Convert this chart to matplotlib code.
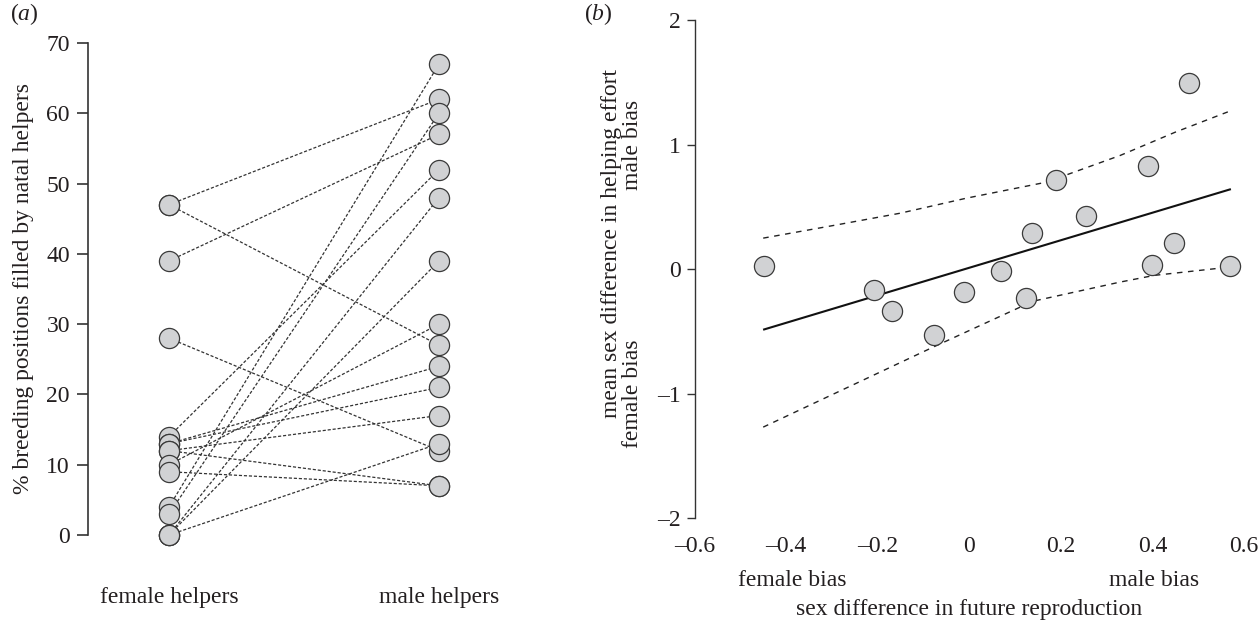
import matplotlib
matplotlib.use("Agg")
import matplotlib.pyplot as plt
from matplotlib.transforms import blended_transform_factory

plt.rcParams['font.family'] = ['Liberation Serif', 'DejaVu Serif']
plt.rcParams['mathtext.fontset'] = 'custom'
plt.rcParams['mathtext.rm'] = 'Liberation Serif'
plt.rcParams['mathtext.it'] = 'Liberation Serif:italic'
plt.rcParams['text.color'] = '#231f20'
plt.rcParams['axes.edgecolor'] = '#333333'
plt.rcParams['xtick.color'] = '#333333'
plt.rcParams['ytick.color'] = '#333333'
plt.rcParams['xtick.labelcolor'] = '#231f20'
plt.rcParams['ytick.labelcolor'] = '#231f20'

# panel (a): % breeding positions filled by natal helpers, paired by species
female_helpers = [47, 47, 39, 28, 14, 13, 13, 12, 12, 10, 9, 4, 3, 0, 0, 0]
male_helpers = [62, 27, 57, 12, 52, 24, 21, 17, 7, 30, 7, 67, 60, 48, 39, 13]
groups = ["female helpers", "male helpers"]

# panel (b): sex difference in future reproduction vs helping effort
future_repro = [-0.448, -0.208, -0.168, -0.077, -0.012, 0.069, 0.124, 0.137,
                0.189, 0.255, 0.390, 0.399, 0.448, 0.480, 0.569]
helping_diff = [0.024, -0.171, -0.337, -0.527, -0.187, -0.016, -0.233, 0.292,
                0.712, 0.425, 0.827, 0.030, 0.209, 1.496, 0.024]
fit_x = [-0.448, 0.569]
fit_y = [-0.484, 0.640]
upper_x = [-0.45, -0.296, -0.151, -0.006, 0.168, 0.329, 0.45, 0.567]
upper_y = [0.249, 0.351, 0.449, 0.570, 0.698, 0.912, 1.10, 1.266]
lower_x = [-0.45, -0.25, -0.079, 0.111, 0.147, 0.329, 0.404, 0.567]
lower_y = [-1.268, -0.922, -0.626, -0.305, -0.251, -0.104, -0.05, 0.016]

face = '#d1d2d4'
edge = '#3a3a3a'
fs = 17

fig = plt.figure(figsize=(12.59, 6.25), dpi=100)

# ---- panel a
ax = fig.add_axes([88/1259, 90/625, 432/1259, 492/625])
for f, m in zip(female_helpers, male_helpers):
    ax.plot([0, 1], [f, m], ls=(0, (2.5, 1.5)), lw=0.9, color='#333333', zorder=1)
ax.plot([0]*len(female_helpers), female_helpers, 'o', ms=14.5, mfc=face, mec=edge,
        mew=0.9, ls='none', zorder=3, clip_on=False)
ax.plot([1]*len(male_helpers), male_helpers, 'o', ms=14.5, mfc=face, mec=edge,
        mew=0.9, ls='none', zorder=3, clip_on=False)
ax.set_xlim(-0.3, 1.3)
ax.set_ylim(0, 70)
ax.set_yticks(range(0, 71, 10))
for s in ['top', 'right', 'bottom']:
    ax.spines[s].set_visible(False)
ax.spines['left'].set_linewidth(1.2)
ax.tick_params(axis='y', direction='out', length=8, width=1.2, pad=5, labelsize=fs)
ax.set_xticks([])
tr = blended_transform_factory(ax.transData, fig.transFigure)
for i, g in enumerate(groups):
    ax.text(i, 1 - 598/625, g, transform=tr, ha='center', va='center', fontsize=fs)
fig.text(24/1259, 1 - 289/625, "% breeding positions filled by natal helpers",
         rotation=90, ha='center', va='center', fontsize=fs)
fig.text(10/1259, 1 - 14/625, r"($\mathit{a}$)", ha='left', va='center', fontsize=fs)

# ---- panel b
bx = fig.add_axes([694.5/1259, (625-518.3)/625, 549.6/1259, 498.3/625])
bx.plot(upper_x, upper_y, ls=(0, (4, 4)), lw=1.0, color='#222222', zorder=1)
bx.plot(lower_x, lower_y, ls=(0, (4, 4)), lw=1.0, color='#222222', zorder=1)
bx.plot(fit_x, fit_y, '-', lw=1.5, color='#111111', zorder=2)
bx.plot(future_repro, helping_diff, 'o', ms=14.5, mfc=face, mec=edge, mew=0.9,
        ls='none', zorder=3, clip_on=False)
bx.set_xlim(-0.6, 0.6)
bx.set_ylim(-2, 2)
bx.set_xticks([-0.6, -0.4, -0.2, 0, 0.2, 0.4, 0.6])
bx.set_xticklabels(['\u2013' + '0.6', '\u2013' + '0.4', '\u2013' + '0.2', '0', '0.2', '0.4', '0.6'])
bx.set_yticks([-2, -1, 0, 1, 2])
bx.set_yticklabels(['\u20132', '\u20131', '0', '1', '2'])
for s in ['top', 'right', 'bottom']:
    bx.spines[s].set_visible(False)
bx.spines['left'].set_linewidth(1.0)
bx.tick_params(axis='y', direction='out', length=6, width=1.0, pad=4, labelsize=fs)
bx.tick_params(axis='x', length=0, pad=13, labelsize=fs)
trb = blended_transform_factory(bx.transData, fig.transFigure)
bx.text(-0.387, 1 - 580/625, "female bias", transform=trb, ha='center', va='center', fontsize=fs)
bx.text(0.403, 1 - 580/625, "male bias", transform=trb, ha='center', va='center', fontsize=fs)
bx.text(0.0, 1 - 610/625, "sex difference in future reproduction", transform=trb,
        ha='center', va='center', fontsize=fs)
fig.text(612/1259, 1 - 243/625, "mean sex difference in helping effort",
         rotation=90, ha='center', va='center', fontsize=fs)
trl = blended_transform_factory(fig.transFigure, bx.transData)
fig.text(633/1259, 1, "male bias", transform=trl, rotation=90, ha='center', va='center', fontsize=fs)
fig.text(633/1259, -1, "female bias", transform=trl, rotation=90, ha='center', va='center', fontsize=fs)
fig.text(584/1259, 1 - 14/625, r"($\mathit{b}$)", ha='left', va='center', fontsize=fs)

fig.savefig("out.png", dpi=100)
